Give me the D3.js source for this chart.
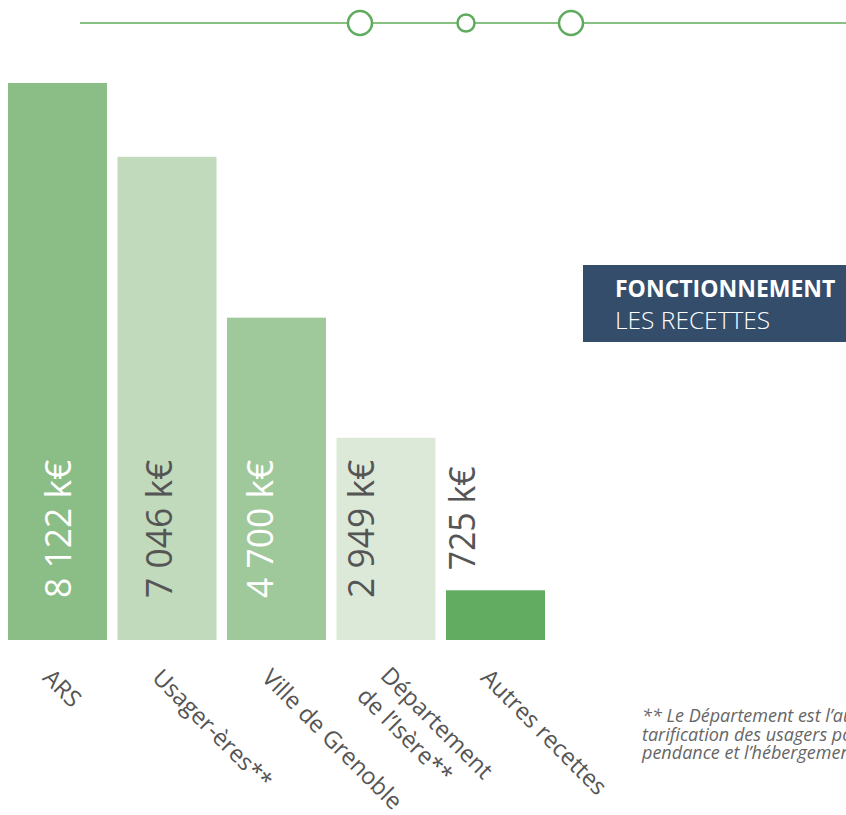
<!DOCTYPE html>
<html><head><meta charset="utf-8">
<script src="https://cdn.jsdelivr.net/npm/d3@7"></script>
<style>
html,body{margin:0;padding:0;background:#fff;overflow:hidden}
svg{display:block}
</style></head>
<body>
<script>
const categories = ["ARS", "Usager-ères**", "Ville de Grenoble", "Département\nde l’Isère**", "Autres recettes"];
const values = [8122, 7046, 4700, 2949, 725];
const valueLabels = ["8 122 k€", "7 046 k€", "4 700 k€", "2 949 k€", "725 k€"];
const barColors = ["#8bbd86", "#c1dabc", "#9fc99b", "#dce9d9", "#61ac61"];
const labelColors = ["#ffffff", "#555555", "#ffffff", "#555555", "#555555"];
const titleLines = ["FONCTIONNEMENT", "LES RECETTES"];
const noteLines = ["** Le Département est l’autorité de", "tarification des usagers pour la dé-", "pendance et l’hébergement."];

const W = 846, H = 815;
const svg = d3.select("body").append("svg").attr("width", W).attr("height", H);

// decoration
const deco = svg.append("g");
deco.append("line").attr("x1", 80).attr("x2", W).attr("y1", 23).attr("y2", 23)
  .attr("stroke", "#86c083").attr("stroke-width", 2);
[[360, 12], [466, 8.5], [571, 12]].forEach(([cx, r]) => {
  deco.append("circle").attr("cx", cx).attr("cy", 23).attr("r", r)
    .attr("fill", "#fff").attr("stroke", "#5fab5d").attr("stroke-width", 2.5);
});

const x = d3.scaleBand().domain(categories).range([8, 545]).paddingInner(0.096).paddingOuter(0);
const y = d3.scaleLinear().domain([0, d3.max(values)]).range([640, 83]);
const xl = d3.scalePoint().domain(categories).range([71, 475]);

const data = categories.map((c, i) => ({c, v: values[i], lab: valueLabels[i], col: barColors[i], lc: labelColors[i]}));

svg.append("g").selectAll("rect").data(data).join("rect")
  .attr("x", d => x(d.c)).attr("width", x.bandwidth())
  .attr("y", d => y(d.v)).attr("height", d => y(0) - y(d.v))
  .attr("fill", d => d.col);

svg.append("g").selectAll("text").data(data).join("text")
  .attr("transform", d => {
    const inside = (y(0) - y(d.v)) > 160;
    const ty = inside ? y(0) - 42 : y(d.v) - 20;
    return `translate(${xl(d.c)},${ty}) rotate(-90)`;
  })
  .attr("fill", d => d.lc)
  .style("font-family", "'Open Sans', sans-serif")
  .style("font-weight", 400)
  .style("font-size", "37px")
  .attr("textLength", d => d.lab.length * 17.3)
  .attr("lengthAdjust", "spacingAndGlyphs")
  .text(d => d.lab);

// category labels
const cat = svg.append("g").selectAll("text").data(data).join("text")
  .attr("transform", d => `translate(${x(d.c) + x.bandwidth()/2 - 16},679) rotate(45)`)
  .attr("fill", "#555")
  .style("font-family", "'Open Sans', sans-serif")
  .style("font-size", "23.5px");
cat.each(function(d) {
  const lines = d.c.split("\n");
  const t = d3.select(this);
  if (lines.length === 1) { t.text(lines[0]); return; }
  t.append("tspan").attr("x", 5).attr("y", -8).text(lines[0]);
  t.append("tspan").attr("x", 3).attr("y", 23).text(lines[1]);
});

// title box
svg.append("rect").attr("x", 583).attr("y", 265).attr("width", W - 583).attr("height", 77).attr("fill", "#344d6b");
svg.append("text").attr("x", 615).attr("y", 297).attr("fill", "#fff")
  .style("font-family", "'Open Sans', sans-serif").style("font-weight", 700).style("font-size", "23px")
  .text(titleLines[0]);
svg.append("text").attr("x", 615).attr("y", 329).attr("fill", "#fff")
  .style("font-family", "'Open Sans', sans-serif").style("font-weight", 300).style("font-size", "24.5px")
  .text(titleLines[1]);

// footnote
svg.append("g").selectAll("text").data(noteLines).join("text")
  .attr("x", 642).attr("y", (d, i) => 722 + i * 18.5)
  .attr("fill", "#666")
  .style("font-family", "'Open Sans', sans-serif").style("font-style", "italic").style("font-size", "18px")
  .text(d => d);
</script>
</body></html>
